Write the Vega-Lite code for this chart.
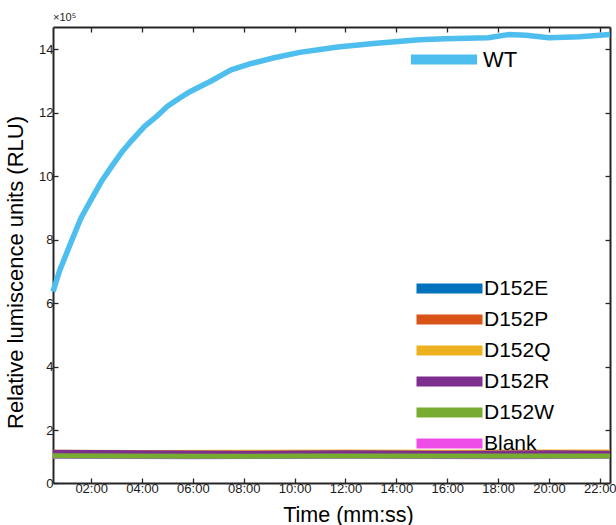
{
  "$schema": "https://vega.github.io/schema/vega-lite/v6.json",
  "width": 557,
  "height": 456,
  "autosize": "none",
  "padding": {"left": 53, "top": 27, "right": 6, "bottom": 42},
  "background": "white",
  "title": {"text": "×10⁵", "anchor": "start", "frame": "group", "fontSize": 11, "font": "Liberation Sans", "fontWeight": "normal", "offset": 3, "color": "#262626"},
  "config": {
    "view": {"stroke": null},
    "font": "Liberation Sans",
    "axis": {"grid": false, "domainColor": "#262626", "domainWidth": 2, "tickColor": "#262626", "tickWidth": 1.3, "labelColor": "#1a1a1a", "titleColor": "#000000", "labelFont": "Liberation Sans", "titleFont": "Liberation Sans", "titleFontWeight": "normal"},
    "legend": {"title": null, "padding": 0, "labelFont": "Liberation Sans", "labelFontSize": 22, "labelColor": "#000000", "symbolType": "M-6.6,0H6.6", "symbolStrokeWidth": 10, "symbolSize": 100, "labelOffset": 28, "rowPadding": -22.6, "symbolOpacity": 1}
  },
  "data": {"values": [
    {"series": "Blank", "t": 0.5, "rlu": 117000}, {"series": "Blank", "t": 6, "rlu": 116000}, {"series": "Blank", "t": 12, "rlu": 117000}, {"series": "Blank", "t": 18, "rlu": 116000}, {"series": "Blank", "t": 22.4, "rlu": 117000},
    {"series": "D152E", "t": 0.5, "rlu": 119000}, {"series": "D152E", "t": 6, "rlu": 118000}, {"series": "D152E", "t": 12, "rlu": 119000}, {"series": "D152E", "t": 18, "rlu": 118000}, {"series": "D152E", "t": 22.4, "rlu": 119000},
    {"series": "D152P", "t": 0.5, "rlu": 125000}, {"series": "D152P", "t": 6, "rlu": 124000}, {"series": "D152P", "t": 12, "rlu": 125000}, {"series": "D152P", "t": 18, "rlu": 125000}, {"series": "D152P", "t": 22.4, "rlu": 126000},
    {"series": "D152Q", "t": 0.5, "rlu": 130000}, {"series": "D152Q", "t": 4, "rlu": 129000}, {"series": "D152Q", "t": 8, "rlu": 130000}, {"series": "D152Q", "t": 12, "rlu": 131000}, {"series": "D152Q", "t": 16, "rlu": 130000}, {"series": "D152Q", "t": 20, "rlu": 131000}, {"series": "D152Q", "t": 22.4, "rlu": 131000},
    {"series": "D152R", "t": 0.5, "rlu": 130000}, {"series": "D152R", "t": 4, "rlu": 128000}, {"series": "D152R", "t": 8, "rlu": 127000}, {"series": "D152R", "t": 12, "rlu": 128000}, {"series": "D152R", "t": 16, "rlu": 127000}, {"series": "D152R", "t": 20, "rlu": 128000}, {"series": "D152R", "t": 22.4, "rlu": 127000},
    {"series": "D152W", "t": 0.5, "rlu": 119000}, {"series": "D152W", "t": 3, "rlu": 118000}, {"series": "D152W", "t": 6.5, "rlu": 117000}, {"series": "D152W", "t": 10, "rlu": 118000}, {"series": "D152W", "t": 14, "rlu": 118000}, {"series": "D152W", "t": 18, "rlu": 118000}, {"series": "D152W", "t": 22.4, "rlu": 118000},
    {"series": "WT", "t": 0.5, "rlu": 636000}, {"series": "WT", "t": 0.75, "rlu": 700000}, {"series": "WT", "t": 1.2, "rlu": 790000}, {"series": "WT", "t": 1.6, "rlu": 868000}, {"series": "WT", "t": 2.0, "rlu": 926000}, {"series": "WT", "t": 2.4, "rlu": 983000}, {"series": "WT", "t": 2.8, "rlu": 1030000}, {"series": "WT", "t": 3.2, "rlu": 1075000}, {"series": "WT", "t": 3.6, "rlu": 1113000}, {"series": "WT", "t": 4.1, "rlu": 1157000}, {"series": "WT", "t": 4.6, "rlu": 1190000}, {"series": "WT", "t": 5.0, "rlu": 1220000}, {"series": "WT", "t": 5.5, "rlu": 1247000}, {"series": "WT", "t": 5.9, "rlu": 1267000}, {"series": "WT", "t": 6.7, "rlu": 1299000}, {"series": "WT", "t": 7.5, "rlu": 1335000}, {"series": "WT", "t": 8.3, "rlu": 1355000}, {"series": "WT", "t": 9.2, "rlu": 1373000}, {"series": "WT", "t": 10.2, "rlu": 1390000}, {"series": "WT", "t": 11.7, "rlu": 1407000}, {"series": "WT", "t": 13.1, "rlu": 1418000}, {"series": "WT", "t": 14.9, "rlu": 1430000}, {"series": "WT", "t": 15.9, "rlu": 1433000}, {"series": "WT", "t": 17.6, "rlu": 1436000}, {"series": "WT", "t": 18.4, "rlu": 1446000}, {"series": "WT", "t": 19.1, "rlu": 1444000}, {"series": "WT", "t": 20.0, "rlu": 1436000}, {"series": "WT", "t": 21.2, "rlu": 1439000}, {"series": "WT", "t": 22.4, "rlu": 1446000}
  ]},
  "layer": [
    {
      "transform": [{"filter": "datum.series !== 'WT'"}],
      "mark": {"type": "line", "strokeWidth": 5, "strokeJoin": "round"},
      "encoding": {
        "x": {"field": "t", "type": "quantitative", "scale": {"domain": [0.5, 22.4], "nice": false, "zero": false},
              "axis": {"orient": "bottom", "values": [2, 4, 6, 8, 10, 12, 14, 16, 18, 20, 22], "labelExpr": "(datum.value < 10 ? '0' : '') + datum.value + ':00'", "labelFontSize": 13, "tickSize": -5, "labelPadding": 4, "title": "Time (mm:ss)", "titleFontSize": 21.5, "titleX": 295, "titleY": 38, "titleBaseline": "alphabetic"}},
        "y": {"field": "rlu", "type": "quantitative", "scale": {"domain": [33000, 1470000], "nice": false, "zero": false},
              "axis": {"orient": "left", "values": [33000, 200000, 400000, 600000, 800000, 1000000, 1200000, 1400000], "labelExpr": "datum.value < 100000 ? '0' : format(datum.value / 100000, 'd')", "labelFontSize": 13, "tickSize": -5, "labelPadding": 5, "title": "Relative lumiscence units (RLU)", "titleFontSize": 22, "titleX": -31, "titleY": 245, "titleBaseline": "alphabetic"}},
        "color": {"field": "series", "type": "nominal",
                  "scale": {"domain": ["D152E", "D152P", "D152Q", "D152R", "D152W", "Blank"], "range": ["#0072BD", "#D95319", "#EDB120", "#7E2F8E", "#77AC30", "#EF4DE7"]},
                  "legend": {"orient": "none", "legendX": 386, "legendY": 251, "labelOffset": 24, "labelFontSize": 21}}
      }
    },
    {
      "transform": [{"filter": "datum.series === 'WT'"}],
      "mark": {"type": "line", "strokeWidth": 5.5, "strokeJoin": "round"},
      "encoding": {
        "x": {"field": "t", "type": "quantitative", "axis": {"orient": "top", "values": [2, 4, 6, 8, 10, 12, 14, 16, 18, 20, 22], "labels": false, "tickSize": -5, "title": null}},
        "y": {"field": "rlu", "type": "quantitative", "axis": {"orient": "right", "values": [200000, 400000, 600000, 800000, 1000000, 1200000, 1400000], "labels": false, "tickSize": -5, "title": null}},
        "color": {"field": "series", "type": "nominal", "scale": {"domain": ["WT"], "range": ["#4DBEEE"]},
                  "legend": {"orient": "none", "legendX": 380, "legendY": 21.5}}
      }
    }
  ],
  "resolve": {"scale": {"color": "independent"}, "axis": {"x": "independent", "y": "independent"}}
}
